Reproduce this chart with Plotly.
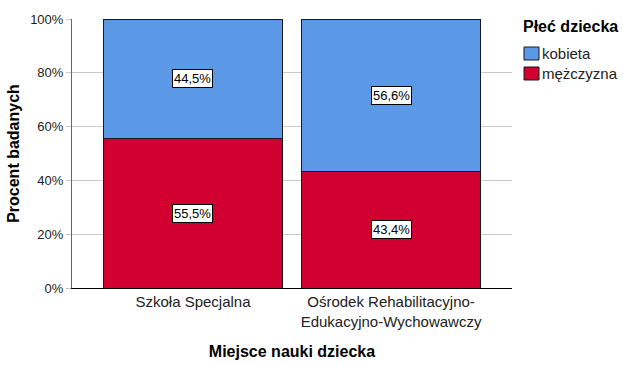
import plotly.graph_objects as go

categories = ["Szkoła Specjalna", "Ośrodek Rehabilitacyjno-<br>Edukacyjno-Wychowawczy"]
legend_title = "Płeć dziecka"
series_names = ["kobieta", "mężczyzna"]
men = [55.5, 43.4]
women = [44.5, 56.6]
colors = {"kobieta": "#5b99e6", "mężczyzna": "#d20030"}
y_ticks = [0, 20, 40, 60, 80, 100]
y_tick_labels = ["0%", "20%", "40%", "60%", "80%", "100%"]

FONT = "Liberation Sans, Arial, sans-serif"
W, H = 623, 365
ML, MR, MT, MB = 72, 111, 19, 77
PW, PH = W - ML - MR, H - MT - MB

def px_x(px):
    return (px - ML) / PW

def px_y(py):
    return (H - MB - py) / PH

fig = go.Figure()
x_idx = list(range(len(categories)))
fig.add_trace(go.Bar(x=x_idx, y=men, name="mężczyzna",
                     marker=dict(color=colors["mężczyzna"], line=dict(color="#1a1a1a", width=1)), width=0.9))
fig.add_trace(go.Bar(x=x_idx, y=women, name="kobieta",
                     marker=dict(color=colors["kobieta"], line=dict(color="#1a1a1a", width=1)), width=0.9))

def fmt(v):
    return f"{v:.1f}".replace(".", ",") + "%"

for i in x_idx:
    for val, base in ((men[i], 0), (women[i], men[i])):
        fig.add_annotation(x=i, y=base + val / 2, text=fmt(val), showarrow=False,
                           font=dict(family=FONT, size=13, color="#000000"),
                           bgcolor="white", bordercolor="#000000", borderwidth=1, borderpad=1)

# manual legend
fig.add_annotation(xref="paper", yref="paper", x=px_x(521), y=px_y(27), xanchor="left", yanchor="middle",
                   text="<b>" + legend_title + "</b>", showarrow=False,
                   font=dict(family=FONT, size=16, color="#000000"))
for k, name in enumerate(series_names):
    cy = 53.5 + 20 * k
    fig.add_shape(type="rect", xref="paper", yref="paper",
                  x0=px_x(524), x1=px_x(539), y0=px_y(cy + 6.5), y1=px_y(cy - 6.5),
                  fillcolor=colors[name], line=dict(color="#1a1a1a", width=1))
    fig.add_annotation(xref="paper", yref="paper", x=px_x(540), y=px_y(cy), xanchor="left", yanchor="middle",
                       text=name, showarrow=False, font=dict(family=FONT, size=15, color="#222222"))

fig.update_layout(
    barmode="stack",
    width=W, height=H,
    margin=dict(l=ML, r=MR, t=MT, b=MB, autoexpand=False),
    paper_bgcolor="white", plot_bgcolor="white",
    font=dict(family=FONT, size=12, color="#000000"),
    showlegend=False,
    xaxis=dict(tickmode="array", tickvals=x_idx, ticktext=categories, range=[-0.611, 1.611],
               showline=True, linecolor="#000000", linewidth=1, ticks="", showgrid=False,
               tickfont=dict(family=FONT, size=15, color="#222222"), automargin=False,
               title=dict(text="<b>Miejsce nauki dziecka</b>", font=dict(family=FONT, size=16), standoff=17)),
    yaxis=dict(range=[0, 100], tickmode="array", tickvals=y_ticks, ticktext=y_tick_labels,
               showgrid=True, gridcolor="#c8c8c8", gridwidth=1,
               showline=True, linecolor="#666666", linewidth=1,
               ticks="outside", ticklen=5, tickcolor="#c8c8c8",
               tickfont=dict(family=FONT, size=13, color="#222222"), automargin=False,
               title=dict(text="<b>Procent badanych</b>", font=dict(family=FONT, size=16), standoff=6),
               zeroline=False),
)

fig.write_html("out.html", config={"displayModeBar": False},
               post_script="document.body.style.margin='0px';")
